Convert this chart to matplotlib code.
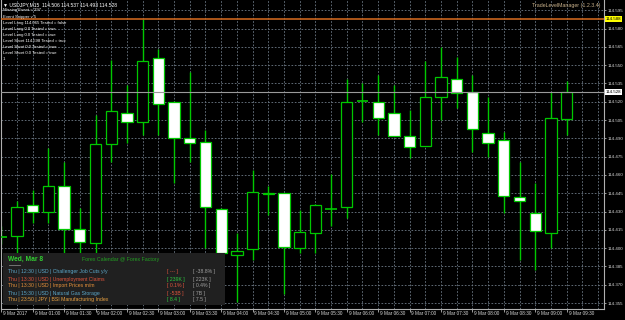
import matplotlib
matplotlib.use('Agg')
import matplotlib.pyplot as plt
from matplotlib.patches import Rectangle
import numpy as np

plt.rcParams['font.family'] = ['Liberation Sans', 'DejaVu Sans']

# USDJPY M15, 9 Mar 2017 -- open, high, low, close per bar
opens  = [114.409, 114.410, 114.435, 114.430, 114.451, 114.416, 114.404, 114.485, 114.511, 114.503,
          114.556, 114.520, 114.490, 114.487, 114.432, 114.394, 114.399, 114.445, 114.445, 114.400,
          114.412, 114.432, 114.434, 114.521, 114.520, 114.511, 114.492, 114.484, 114.524, 114.539,
          114.528, 114.494, 114.489, 114.442, 114.429, 114.412, 114.506]
highs  = [114.418, 114.439, 114.448, 114.482, 114.471, 114.433, 114.509, 114.554, 114.534, 114.588,
          114.563, 114.521, 114.544, 114.497, 114.433, 114.412, 114.464, 114.451, 114.445, 114.431,
          114.436, 114.461, 114.539, 114.535, 114.542, 114.534, 114.513, 114.553, 114.565, 114.557,
          114.542, 114.524, 114.495, 114.471, 114.453, 114.528, 114.537]
lows   = [114.403, 114.392, 114.421, 114.421, 114.389, 114.392, 114.396, 114.471, 114.486, 114.493,
          114.493, 114.453, 114.471, 114.400, 114.389, 114.356, 114.390, 114.427, 114.362, 114.396,
          114.396, 114.418, 114.425, 114.503, 114.493, 114.492, 114.474, 114.484, 114.505, 114.515,
          114.479, 114.475, 114.429, 114.390, 114.382, 114.400, 114.493]
closes = [114.409, 114.434, 114.430, 114.451, 114.416, 114.405, 114.485, 114.512, 114.503, 114.553,
          114.518, 114.490, 114.486, 114.434, 114.396, 114.398, 114.446, 114.444, 114.401, 114.413,
          114.435, 114.432, 114.520, 114.521, 114.507, 114.492, 114.483, 114.524, 114.540, 114.527,
          114.498, 114.486, 114.443, 114.439, 114.414, 114.507, 114.528]

time_labels = ['9 Mar 2017', '9 Mar 01:00', '9 Mar 01:30', '9 Mar 02:00', '9 Mar 02:30', '9 Mar 03:00',
               '9 Mar 03:30', '9 Mar 04:00', '9 Mar 04:30', '9 Mar 05:00', '9 Mar 05:30', '9 Mar 06:00',
               '9 Mar 06:30', '9 Mar 07:00', '9 Mar 07:30', '9 Mar 08:00', '9 Mar 08:30', '9 Mar 09:00',
               '9 Mar 09:30']
price_ticks = [114.355 + 0.015 * k for k in range(17)]

sniper_level = 114.588
info_lines = ['Missing Event = 297', 'Event Snipper v 5',
              'Level Long 114.065 Tested = false', 'Level Long 0.0 Tested = true',
              'Level Long 0.0 Tested = true', 'Level Short 114.598 Tested = true',
              'Level Short 0.0 Tested = true', 'Level Short 0.0 Tested = true', '1']

cal_rows = [('Thu', '12:30', 'USD', 'Challenger Job Cuts y/y', '[ --- ]', '[ -38.8% ]'),
            ('Thu', '13:30', 'USD', 'Unemployment Claims', '[ 239K ]', '[ 223K ]'),
            ('Thu', '13:30', 'USD', 'Import Prices m/m', '[ 0.1% ]', '[ 0.4% ]'),
            ('Thu', '15:30', 'USD', 'Natural Gas Storage', '[ -53B ]', '[ 7B ]'),
            ('Thu', '23:50', 'JPY', 'BSI Manufacturing Index', '[ 8.4 ]', '[ 7.5 ]')]
row_colors = ['#5aa6c8', '#e0553c', '#e8923a', '#5aa6c8', '#e8a040']
actual_colors = ['#e0553c', '#2ecc40', '#e0553c', '#e0553c', '#2ecc40']

W, H = 625, 320
def fx(x):
    return x / W
def fy(y):
    return 1 - y / H

fig = plt.figure(figsize=(6.25, 3.2), dpi=100)
fig.patch.set_facecolor('black')
ax = fig.add_axes([fx(1), fy(309), fx(604) - fx(1), fy(0) - fy(309)])
ax.set_facecolor('black')

green = '#00c800'
grid_c = '#6f7b88'
n = len(opens)
xs = np.arange(n)

ax.set_xlim(-0.02, 38.38)
ax.set_ylim(114.3501, 114.6034)

# grid
for i in range(39):
    ax.axvline(i, color=grid_c, lw=0.6, ls=(0, (2, 2)), zorder=1)
for p in price_ticks:
    ax.axhline(p, color=grid_c, lw=0.6, ls=(0, (2, 2)), zorder=1)

# candles
ax.vlines(xs, lows, highs, color=green, lw=1.0, zorder=2)
for i in range(n):
    o, c = opens[i], closes[i]
    if abs(c - o) < 0.0005:
        ax.hlines(o, i - 0.37, i + 0.37, color=green, lw=1.2, zorder=3)
        continue
    face = 'black' if c > o else 'white'
    ax.bar(i, abs(c - o), bottom=min(o, c), width=0.72, color=face,
           edgecolor=green, linewidth=0.9, zorder=3)

# levels
ax.axhline(sniper_level, color='#c8641e', lw=1.2, zorder=4)
ax.axhline(closes[-1], color='#9a9a9a', lw=0.8, zorder=4)

ax.set_yticks(price_ticks)
ax.set_yticklabels(['%.3f' % p for p in price_ticks])
ax.yaxis.tick_right()
ax.tick_params(axis='y', colors='#d8d8d8', labelsize=3.2, length=1.5, width=0.5, pad=0.8)
ax.set_xticks(np.arange(0, 37, 2))
ax.set_xticklabels([])
ax.tick_params(axis='x', colors='#d8d8d8', length=2, width=0.5, direction='out')
for i, lab in enumerate(time_labels):
    ax.text(2 * i + 0.12, -0.006, lab, transform=ax.get_xaxis_transform(), color='#d8d8d8',
            fontsize=3.4, ha='left', va='top')
ax.spines['top'].set_visible(False)
for s in ['left', 'right', 'bottom']:
    ax.spines[s].set_color('#b0b0b0')
    ax.spines[s].set_linewidth(0.8)

# price boxes on the axis
box_x = 1.0035
ax.text(box_x, sniper_level, '%.3f' % sniper_level, transform=ax.get_yaxis_transform(),
        fontsize=3.2, color='black', va='center', ha='left',
        bbox=dict(boxstyle='square,pad=0.2', fc='#ffff00', ec='none'), zorder=6)
ax.text(box_x, closes[-1], '%.3f' % closes[-1], transform=ax.get_yaxis_transform(),
        fontsize=3.2, color='black', va='center', ha='left',
        bbox=dict(boxstyle='square,pad=0.2', fc='white', ec='none'), zorder=6)

# header texts
fig.text(fx(3), fy(4.5), '▼ USDJPY,M15  %.3f %.3f %.3f %.3f' % (opens[-1], highs[-1], lows[-1], closes[-1]),
         color='white', fontsize=3.6, va='center')
for k, line in enumerate(info_lines):
    fig.text(fx(3), fy(10.5 + 6.1 * k), line, color='white', fontsize=3.1, va='center')
fig.text(fx(600), fy(5), 'TradeLevelManager (1.2.3.4)', color='#c8b08a', fontsize=3.8, ha='right', va='center')

# calendar panel
fig.patches.append(Rectangle((fx(3), fy(305)), fx(225) - fx(3), fy(253) - fy(305),
                             transform=fig.transFigure, fc='#202020', ec='none', zorder=10))
fig.text(fx(8), fy(259), 'Wed, Mar 8', color='#32cd32', fontsize=4.8, fontweight='bold', va='center', zorder=11)
fig.lines.append(plt.Line2D([fx(9), fx(20)], [fy(265), fy(265)], transform=fig.transFigure,
                            color='#808080', lw=0.6, zorder=11))
fig.text(fx(82), fy(259), 'Forex Calendar @ Forex Factory', color='#22a022', fontsize=3.8, va='center', zorder=11)
for r, row in enumerate(cal_rows):
    y = fy(272 + 7 * r)
    fig.text(fx(8), y, '%s | %s | %s | %s' % row[:4], color=row_colors[r], fontsize=3.7,
             va='center', zorder=11)
    fig.text(fx(167), y, row[4], color=actual_colors[r], fontsize=3.7, va='center', zorder=11)
    fig.text(fx(193), y, row[5], color='#a0a0a0', fontsize=3.7, va='center', zorder=11)

plt.savefig('out.png', dpi=100, facecolor='black')
